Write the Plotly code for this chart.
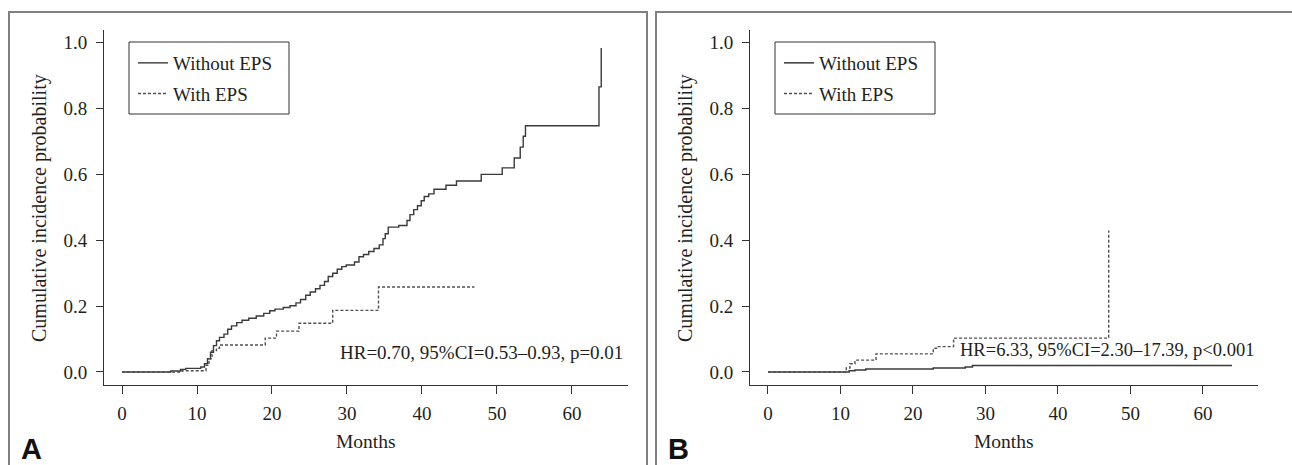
import plotly.graph_objects as go

# ---------------- data ----------------
months_ticks = [0, 10, 20, 30, 40, 50, 60]
prob_ticks = [0.0, 0.2, 0.4, 0.6, 0.8, 1.0]
prob_ticktext = ["0.0", "0.2", "0.4", "0.6", "0.8", "1.0"]
series_names = ["Without EPS", "With EPS"]

# Panel A - Without EPS (step times in months, cumulative incidence)
a_wo_t = [0, 6.5, 7.8, 8.5, 10.5, 11.0, 11.4, 11.8, 12.2, 12.6, 13.0, 13.6, 14.1, 14.6,
          15.3, 16.0, 16.9, 17.9, 18.9, 19.7, 20.4, 21.5, 22.4, 23.2, 23.8, 24.5, 25.1,
          25.8, 26.4, 27.0, 27.5, 28.1, 28.7, 29.3, 29.9, 31.0, 31.6, 32.2, 32.9, 33.6,
          34.3, 34.8, 35.1, 35.5, 36.9, 38.0, 38.4, 38.9, 39.4, 39.9, 40.3, 40.9, 41.6,
          43.2, 44.6, 47.9, 50.7, 52.3, 53.1, 53.5, 53.8, 63.6, 63.9]
a_wo_p = [0, 0.003, 0.008, 0.011, 0.015, 0.025, 0.04, 0.06, 0.08, 0.095, 0.105, 0.115,
          0.13, 0.14, 0.15, 0.157, 0.163, 0.17, 0.178, 0.186, 0.191, 0.196, 0.201, 0.21,
          0.22, 0.233, 0.243, 0.253, 0.263, 0.275, 0.29, 0.3, 0.312, 0.32, 0.325, 0.334,
          0.35, 0.357, 0.366, 0.375, 0.386, 0.405, 0.42, 0.44, 0.445, 0.46, 0.478, 0.493,
          0.505, 0.52, 0.533, 0.541, 0.555, 0.567, 0.58, 0.6, 0.62, 0.65, 0.683, 0.716,
          0.748, 0.866, 0.984]

# Panel A - With EPS
a_w_t = [0, 8.0, 11.2, 11.6, 12.0, 12.6, 13.0, 19.1, 20.6, 23.6, 28.1, 34.2, 47.0]
a_w_p = [0, 0.004, 0.02, 0.04, 0.065, 0.072, 0.082, 0.103, 0.124, 0.148, 0.187, 0.258, 0.258]

# Panel B - Without EPS
b_wo_t = [0, 11.2, 12.0, 13.5, 22.8, 27.2, 28.2, 64.0]
b_wo_p = [0, 0.004, 0.006, 0.009, 0.012, 0.015, 0.02, 0.02]

# Panel B - With EPS
b_w_t = [0, 10.8, 11.3, 12.0, 14.9, 22.8, 23.4, 25.6, 47.0]
b_w_p = [0, 0.012, 0.025, 0.036, 0.055, 0.072, 0.077, 0.103, 0.43]

hr_text_a = "HR=0.70, 95%CI=0.53\u20130.93, p=0.01"
hr_text_b = "HR=6.33, 95%CI=2.30\u201317.39, p<0.001"
x_title = "Months"
y_title = "Cumulative incidence probability"
panel_labels = ["A", "B"]

# ---------------- layout helpers ----------------
W, H = 1292, 465
SERIF = "Liberation Serif, Times New Roman, serif"
TXT = "#231f20"
SOLID_C = "#3a3a3a"
DASH_C = "#505050"

def px(x):
    return x / W

def py(y):
    return 1 - y / H

fig = go.Figure()

# Panel A traces
fig.add_trace(go.Scatter(x=a_wo_t, y=a_wo_p, mode="lines", line_shape="hv",
                         line=dict(color=SOLID_C, width=1.4), name=series_names[0],
                         xaxis="x", yaxis="y", legend="legend", legendgroup="a1"))
fig.add_trace(go.Scatter(x=a_w_t, y=a_w_p, mode="lines", line_shape="hv",
                         line=dict(color=DASH_C, width=1.4, dash="3px,2px"), name=series_names[1],
                         xaxis="x", yaxis="y", legend="legend", legendgroup="a2"))
# Panel B traces
fig.add_trace(go.Scatter(x=b_wo_t, y=b_wo_p, mode="lines", line_shape="hv",
                         line=dict(color=SOLID_C, width=1.5), name=series_names[0],
                         xaxis="x2", yaxis="y2", legend="legend2", legendgroup="b1"))
fig.add_trace(go.Scatter(x=b_w_t, y=b_w_p, mode="lines", line_shape="hv",
                         line=dict(color=DASH_C, width=1.4, dash="3px,2px"), name=series_names[1],
                         xaxis="x2", yaxis="y2", legend="legend2", legendgroup="b2"))

common_x = dict(tickvals=months_ticks, ticks="outside", ticklen=8, tickwidth=1,
                tickcolor="#333", showline=True, linecolor="#333", linewidth=1,
                showgrid=False, zeroline=False, ticklabelstandoff=3,
                tickfont=dict(family=SERIF, size=19, color=TXT), fixedrange=True)
common_y = dict(tickvals=prob_ticks, ticktext=prob_ticktext, ticks="outside", ticklen=7,
                tickwidth=1, tickcolor="#333", showline=True, linecolor="#333", linewidth=1,
                showgrid=False, zeroline=False, ticklabelstandoff=5,
                tickfont=dict(family=SERIF, size=19, color=TXT), fixedrange=True,
                range=[-0.0395, 1.0386], domain=[1 - 385 / H, 1 - 30 / H])

legend_common = dict(bgcolor="rgba(0,0,0,0)", borderwidth=0, xanchor="left", yanchor="top",
                     font=dict(family=SERIF, size=19, color=TXT), tracegroupgap=3,
                     traceorder="grouped", itemwidth=30)

fig.update_layout(
    width=W, height=H, margin=dict(l=0, r=0, t=0, b=0),
    paper_bgcolor="white", plot_bgcolor="white",
    xaxis=dict(common_x, domain=[px(104), px(628)], range=[-2.4, 67.47], anchor="y"),
    yaxis=dict(common_y, anchor="x"),
    xaxis2=dict(common_x, domain=[px(750), px(1258)], range=[-2.48, 67.59], anchor="y2"),
    yaxis2=dict(common_y, anchor="x2"),
    legend=dict(legend_common, x=px(133), y=py(44)),
    legend2=dict(legend_common, x=px(779), y=py(44)),
    showlegend=True,
)

shapes = []
# panel borders
for x0, x1 in [(9, 647), (656, 1310)]:
    shapes.append(dict(type="rect", xref="paper", yref="paper",
                       x0=px(x0), x1=px(x1), y0=py(H + 5), y1=py(12),
                       line=dict(color="#808080", width=2)))
# legend boxes
for x0 in [129, 775]:
    shapes.append(dict(type="rect", xref="paper", yref="paper",
                       x0=px(x0), x1=px(x0 + 160), y0=py(114), y1=py(42),
                       line=dict(color="#333", width=1)))
fig.update_layout(shapes=shapes)

annotations = []
# HR texts
annotations.append(dict(text=hr_text_a, xref="paper", yref="paper", x=px(625), y=py(352),
                        xanchor="right", yanchor="middle", showarrow=False,
                        font=dict(family=SERIF, size=19, color=TXT)))
annotations.append(dict(text=hr_text_b, xref="paper", yref="paper", x=px(1256), y=py(350),
                        xanchor="right", yanchor="middle", showarrow=False,
                        font=dict(family=SERIF, size=18.5, color=TXT)))
# axis titles
for cx in [366, 1004]:
    annotations.append(dict(text=x_title, xref="paper", yref="paper", x=px(cx), y=py(441),
                            xanchor="center", yanchor="middle", showarrow=False,
                            font=dict(family=SERIF, size=19.5, color=TXT)))
for cx in [40, 686]:
    annotations.append(dict(text=y_title, xref="paper", yref="paper", x=px(cx), y=py(208),
                            xanchor="center", yanchor="middle", showarrow=False, textangle=-90,
                            font=dict(family=SERIF, size=20, color=TXT)))
# panel labels
for cx, lab in zip([19, 666], panel_labels):
    annotations.append(dict(text="<b>" + lab + "</b>", xref="paper", yref="paper", x=px(cx),
                            y=py(449), xanchor="left", yanchor="middle", showarrow=False,
                            font=dict(family="Liberation Sans, Arial, sans-serif", size=29,
                                      color="#111")))
fig.update_layout(annotations=annotations)

fig.write_html("out.html", config={"displayModeBar": False},
               post_script="document.body.style.margin='0';document.body.style.overflow='hidden';")
